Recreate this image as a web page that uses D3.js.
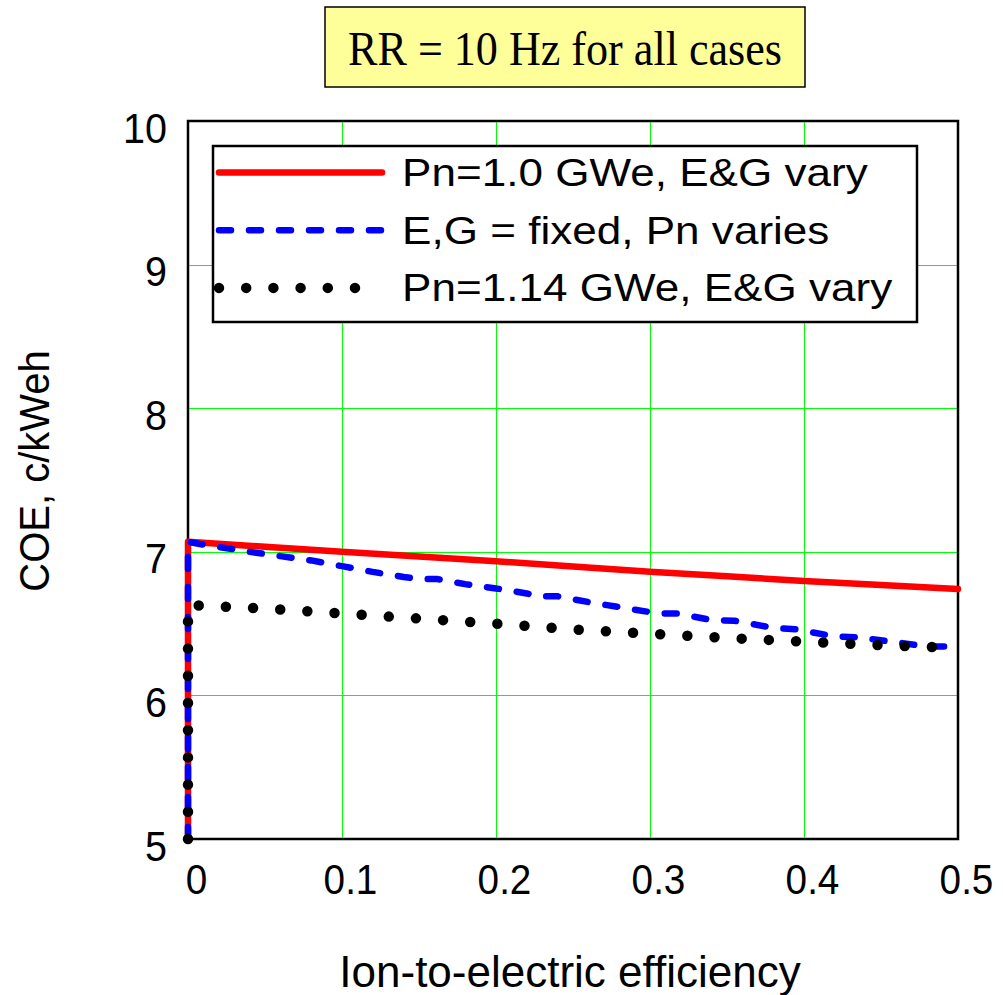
<!DOCTYPE html>
<html>
<head>
<meta charset="utf-8">
<script src="https://cdn.jsdelivr.net/npm/d3@7"></script>
<style>
  html, body { margin: 0; padding: 0; background: #fff; }
  svg { display: block; }
</style>
</head>
<body>
<svg id="chart" width="1003" height="995"></svg>
<script>
// ---- data ----
const titleText = "RR = 10 Hz for all cases";
const xLabel = "Ion-to-electric efficiency";
const yLabel = "COE, c/kWeh";
const xTicks = [0, 0.1, 0.2, 0.3, 0.4, 0.5];
const xTickLabels = ["0", "0.1", "0.2", "0.3", "0.4", "0.5"];
const yTicks = [5, 6, 7, 8, 9, 10];
const yTickLabels = ["5", "6", "7", "8", "9", "10"];
const seriesNames = ["Pn=1.0 GWe, E&G vary", "E,G = fixed, Pn varies", "Pn=1.14 GWe, E&G vary"];

const redX = [0, 0, 0.05, 0.1, 0.15, 0.2, 0.25, 0.3, 0.35, 0.4, 0.45, 0.5];
const redY = [5, 7.07, 7.035, 7.0, 6.967, 6.934, 6.897, 6.861, 6.829, 6.797, 6.769, 6.741];

const blueX = [0, 0, 0.01, 0.04, 0.06, 0.08, 0.10, 0.12, 0.14, 0.15, 0.162, 0.18, 0.20, 0.22, 0.227, 0.24,
               0.26, 0.28, 0.30, 0.305, 0.318, 0.34, 0.355, 0.38, 0.395, 0.42, 0.435, 0.46, 0.48, 0.50];
const blueY = [5, 7.07, 7.05, 7.0, 6.97, 6.94, 6.90, 6.86, 6.825, 6.81, 6.81, 6.775, 6.745, 6.71, 6.69, 6.69,
               6.65, 6.615, 6.58, 6.57, 6.57, 6.525, 6.52, 6.47, 6.46, 6.41, 6.405, 6.37, 6.34, 6.34];

const blackX = [0, 0, 0.02, 0.05, 0.1, 0.15, 0.2, 0.25, 0.3, 0.35, 0.4, 0.45, 0.5];
const blackY = [5, 6.63, 6.62, 6.605, 6.57, 6.535, 6.50, 6.46, 6.43, 6.40, 6.375, 6.35, 6.33];

// ---- layout ----
const svg = d3.select("#chart");
const plot = {left: 188, right: 958, top: 121, bottom: 839};
const x = d3.scaleLinear().domain([0, 0.5]).range([plot.left, plot.right]);
const y = d3.scaleLinear().domain([5, 10]).range([plot.bottom, plot.top]);
const sans = "'Liberation Sans', Arial, sans-serif";
const serif = "'Liberation Serif', 'Times New Roman', serif";
const px = v => Math.round(v) + 0.5;

// title box
const tb = {x: 325, y: 7, w: 480, h: 80};
svg.append("rect").attr("x", tb.x).attr("y", tb.y).attr("width", tb.w).attr("height", tb.h)
  .attr("fill", "#ffff99").attr("stroke", "#000").attr("stroke-width", 1.5);
svg.append("text").attr("transform", `translate(${tb.x + tb.w / 2},65) scale(0.9,1)`)
  .attr("text-anchor", "middle").attr("font-family", serif).attr("font-size", 49)
  .attr("fill", "#000").text(titleText);

// grid
const grid = svg.append("g");
grid.selectAll("line.vx").data(xTicks.slice(1, -1)).join("line")
  .attr("x1", d => px(x(d))).attr("x2", d => px(x(d))).attr("y1", plot.top).attr("y2", plot.bottom)
  .attr("stroke", "#00ff00").attr("stroke-width", 1);
grid.selectAll("line.hy").data(yTicks.slice(1, -1)).join("line")
  .attr("y1", d => px(y(d))).attr("y2", d => px(y(d))).attr("x1", plot.left).attr("x2", plot.right)
  .attr("stroke", "#00ff00").attr("stroke-width", 1);

// axes via d3 axis (ticks hidden, labels custom-placed)
const xAxis = svg.append("g").attr("transform", `translate(0,${plot.bottom})`)
  .call(d3.axisBottom(x).tickValues(xTicks).tickFormat((d, i) => xTickLabels[i]).tickSize(0));
xAxis.select(".domain").remove();
xAxis.selectAll("text")
  .attr("font-family", sans).attr("font-size", 43).attr("fill", "#000")
  .attr("y", 0).attr("dy", 0)
  .attr("transform", `translate(8,55) scale(0.9,1)`);

const yAxis = svg.append("g").attr("transform", `translate(${plot.left},0)`)
  .call(d3.axisLeft(y).tickValues(yTicks).tickFormat((d, i) => yTickLabels[i]).tickSize(0));
yAxis.select(".domain").remove();
yAxis.selectAll(".tick text")
  .attr("font-family", sans).attr("font-size", 43).attr("fill", "#000")
  .attr("x", 0).attr("dy", 0).attr("text-anchor", "end")
  .attr("transform", `translate(-21,21) scale(0.92,1)`);

// frame
svg.append("rect").attr("x", plot.left).attr("y", plot.top)
  .attr("width", plot.right - plot.left).attr("height", plot.bottom - plot.top)
  .attr("fill", "none").attr("stroke", "#000").attr("stroke-width", 2.5);

// lines
const line = d3.line().x(d => x(d[0])).y(d => y(d[1]));
const styles = [
  {color: "#ff0000", width: 6.5, dash: null},
  {color: "#0000ff", width: 6.5, dash: "12,18"},
  {color: "#000000", width: 10.5, dash: "0,27.2"}
];
const series = [
  d3.zip(redX, redY),
  d3.zip(blueX, blueY),
  d3.zip(blackX, blackY)
];
[0, 1, 2].forEach(i => {
  const p = svg.append("path").datum(series[i]).attr("d", line)
    .attr("fill", "none").attr("stroke", styles[i].color).attr("stroke-width", styles[i].width)
    .attr("stroke-linecap", "round").attr("stroke-linejoin", "round");
  if (styles[i].dash) p.attr("stroke-dasharray", styles[i].dash);
});

// legend
const lg = {x: 213, y: 146, w: 704, h: 176};
svg.append("rect").attr("x", lg.x).attr("y", lg.y).attr("width", lg.w).attr("height", lg.h)
  .attr("fill", "#fff").attr("stroke", "#000").attr("stroke-width", 2.5);
seriesNames.forEach((name, i) => {
  const base = 186 + i * 57.7;
  const ly = base - 13.5;
  const l = svg.append("line").attr("x1", 219).attr("x2", 382).attr("y1", ly).attr("y2", ly)
    .attr("stroke", styles[i].color).attr("stroke-width", styles[i].width)
    .attr("stroke-linecap", "round");
  if (styles[i].dash) l.attr("stroke-dasharray", styles[i].dash);
  svg.append("text").attr("transform", `translate(402,${base}) scale(1.13,1)`)
    .attr("font-family", sans).attr("font-size", 39).attr("fill", "#000").text(name);
});

// axis labels
svg.append("text").attr("transform", "translate(570,987)")
  .attr("text-anchor", "middle").attr("font-family", sans).attr("font-size", 44)
  .attr("fill", "#000").text(xLabel);
svg.append("text").attr("transform", "translate(49,471) rotate(-90) scale(0.93,1)")
  .attr("text-anchor", "middle").attr("font-family", sans).attr("font-size", 43)
  .attr("fill", "#000").text(yLabel);
</script>
</body>
</html>
